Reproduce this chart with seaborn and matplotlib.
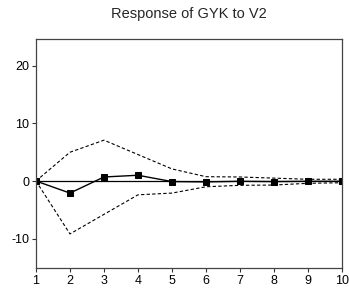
import numpy as np
import pandas as pd
import seaborn as sns
import matplotlib
matplotlib.use('Agg')
import matplotlib.pyplot as plt

periods = [1, 2, 3, 4, 5, 6, 7, 8, 9, 10]
response = [0.0, -2.1, 0.7, 1.0, -0.1, -0.15, -0.05, -0.1, -0.05, -0.05]
upper = [0.0, 5.0, 7.1, 4.6, 2.1, 0.75, 0.7, 0.5, 0.3, 0.3]
lower = [0.0, -9.2, -5.8, -2.4, -2.1, -1.0, -0.75, -0.7, -0.4, -0.3]
yticks = [-10, 0, 10, 20]

df = pd.DataFrame({'period': periods, 'response': response, 'upper': upper, 'lower': lower})

sns.set_style('white')
plt.rcParams['font.family'] = ['Liberation Sans', 'DejaVu Sans']
plt.rcParams['axes.unicode_minus'] = False

fig = plt.figure(figsize=(3.49, 2.95), dpi=100)
ax = fig.add_axes([0.103, 0.092, 0.877, 0.776])

ax.axhline(0, color='black', linewidth=0.9)
sns.lineplot(data=df, x='period', y='upper', ax=ax, color='black', linewidth=0.8, linestyle=(0, (3, 2)))
sns.lineplot(data=df, x='period', y='lower', ax=ax, color='black', linewidth=0.8, linestyle=(0, (3, 2)))
sns.lineplot(data=df, x='period', y='response', ax=ax, color='black', linewidth=1.0,
             marker='s', markersize=4.5, markeredgecolor='black')

ax.set_xlim(1, 10)
ax.set_ylim(-15.1, 24.7)
ax.set_xticks(periods)
ax.set_yticks(yticks)
ax.set_xlabel('')
ax.set_ylabel('')
ax.set_title('Response of GYK to V2', fontsize=10.5, pad=15)
ax.tick_params(axis='both', direction='out', length=3, width=0.8, labelsize=9, pad=2,
               colors='#333333', labelcolor='black', bottom=True, left=True)
for s in ax.spines.values():
    s.set_color('#444444')
    s.set_linewidth(0.9)

fig.savefig('out.png', dpi=100)
